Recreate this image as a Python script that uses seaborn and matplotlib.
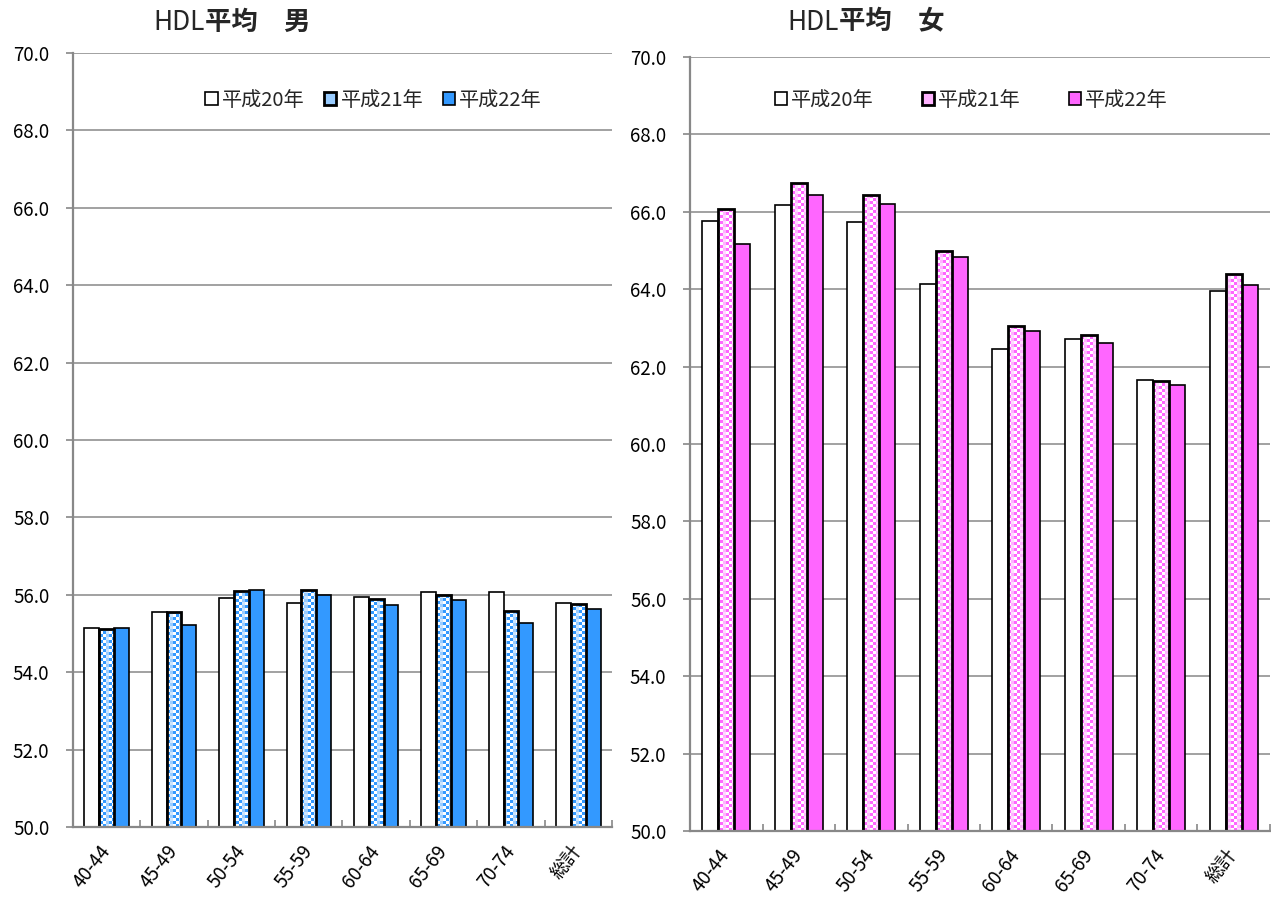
import numpy as np
import pandas as pd
import matplotlib
matplotlib.use("Agg")
import matplotlib.pyplot as plt
import matplotlib.colors as mcolors
from matplotlib.patches import Rectangle
import seaborn as sns

# ---------------- data ----------------
categories = ['40-44', '45-49', '50-54', '55-59', '60-64', '65-69', '70-74', '総計']
years = ['平成20年', '平成21年', '平成22年']

male_h20 = [55.15, 55.55, 55.91, 55.79, 55.94, 56.08, 56.08, 55.78]
male_h21 = [55.12, 55.55, 56.09, 56.12, 55.88, 56.00, 55.57, 55.77]
male_h22 = [55.15, 55.23, 56.13, 56.00, 55.73, 55.87, 55.27, 55.63]

female_h20 = [65.77, 66.17, 65.74, 64.13, 62.45, 62.71, 61.65, 63.96]
female_h21 = [66.08, 66.75, 66.43, 64.99, 63.05, 62.81, 61.63, 64.39]
female_h22 = [65.18, 66.43, 66.20, 64.84, 62.92, 62.61, 61.53, 64.11]

yticks = [50, 52, 54, 56, 58, 60, 62, 64, 66, 68, 70]

# ---------------- style ----------------
sns.set_theme(style='white')
plt.rcParams['font.family'] = ['Noto Sans CJK JP', 'DejaVu Sans']

fig = plt.figure(figsize=(12.71, 8.99), dpi=100)
axL = fig.add_axes([0.0574, 0.0801, 0.4241, 0.861])
axR = fig.add_axes([0.5429, 0.0756, 0.4563, 0.861])


def add_checker(ax, patches, dark, white, light, pale):
    pos = ax.get_position()
    wpx = pos.width * fig.get_figwidth() * fig.dpi
    hpx = pos.height * fig.get_figheight() * fig.dpi
    cell = 3
    nx, ny = int(wpx / cell), int(hpx / cell)
    tile = [[dark, white, light], [white, dark, pale]]
    tile = [[mcolors.to_rgb(c) for c in row] for row in tile]
    img = np.zeros((ny, nx, 3))
    for i in range(ny):
        for j in range(nx):
            img[i, j] = tile[i % 2][j % 3]
    x0, x1 = ax.get_xlim()
    y0, y1 = ax.get_ylim()
    for p in patches:
        z = p.get_zorder()
        im = ax.imshow(img, extent=(x0, x1, y0, y1), aspect='auto',
                       interpolation='nearest', zorder=z + 0.1, origin='upper')
        im.set_clip_path(p)
        p.set_facecolor('none')
        p.set_linewidth(2.0)
        p.set_zorder(z + 0.2)
    ax.set_xlim(x0, x1)
    ax.set_ylim(y0, y1)


def draw(ax, h20, h21, h22, colors, checker_cols, title_x, title_sex,
         leg_anchor, colspacing):
    df = pd.DataFrame({
        'cat': categories * 3,
        'year': [years[0]] * len(categories) + [years[1]] * len(categories) + [years[2]] * len(categories),
        'val': h20 + h21 + h22,
    })
    sns.barplot(data=df, x='cat', y='val', hue='year', order=categories,
                hue_order=years, palette=colors, width=0.66, edgecolor='black',
                linewidth=1.2, saturation=1, errorbar=None, legend=False, ax=ax)
    ax.set_ylim(50, 70)
    ax.set_xlim(-0.5, len(categories) - 0.5)
    ax.set_yticks(yticks, [f'{v:.1f}' for v in yticks])
    ax.set_xticks(range(len(categories)), categories, rotation=52,
                  ha='right', va='center', rotation_mode='anchor')
    ax.set_xticks(np.arange(0.5, len(categories), 1), minor=True)
    ax.set_xlabel('')
    ax.set_ylabel('')
    ax.set_axisbelow(True)
    ax.yaxis.grid(True, color='#9a9a9a', lw=1.3)
    ax.xaxis.grid(False)
    for s in ['top', 'right']:
        ax.spines[s].set_visible(False)
    for s in ['left', 'bottom']:
        ax.spines[s].set_color('#888888')
        ax.spines[s].set_linewidth(1.6)
    ax.tick_params(axis='y', left=True, length=5, width=1.2, color='#888888',
                   direction='out', labelsize=13.5, pad=12, labelcolor='black')
    ax.tick_params(axis='x', which='major', length=0, labelsize=13.5, pad=15,
                   labelcolor='black')
    ax.tick_params(axis='x', which='minor', bottom=True, length=5, width=1.2,
                   color='#888888', direction='in')

    # checker pattern for the middle series
    add_checker(ax, list(ax.containers[1]), *checker_cols)

    # legend
    handles = [
        Rectangle((0, 0), 1, 1, facecolor=colors[0], edgecolor='black', lw=1.2),
        Rectangle((0, 0), 1, 1, facecolor=checker_cols[2], edgecolor='black', lw=2.0),
        Rectangle((0, 0), 1, 1, facecolor=colors[2], edgecolor='black', lw=1.2),
    ]
    ax.legend(handles, years, loc='center', bbox_to_anchor=leg_anchor, ncol=3,
              frameon=False, fontsize=14.5, handlelength=0.6, handleheight=0.6,
              handletextpad=0.2, columnspacing=colspacing, borderpad=0)

    # title
    fig.text(title_x, 0.9755, 'HDL', ha='right', va='center', fontsize=19)
    fig.text(title_x, 0.9755, '平均　' + title_sex, ha='left', va='center',
             fontsize=19, fontweight='bold')


draw(axL, male_h20, male_h21, male_h22,
     ['#FFFFFF', '#99CCFF', '#3399FF'],
     ('#3399FF', '#FFFFFF', '#99CCFF', '#CCE5FF'),
     0.1613, '男', (0.558, 0.939), 1.0)

draw(axR, female_h20, female_h21, female_h22,
     ['#FFFFFF', '#FFB3FF', '#FF66FF'],
     ('#FF66FF', '#FFFFFF', '#FFB3FF', '#FFD9FF'),
     0.660, '女', (0.485, 0.944), 2.4)

fig.savefig('out.png', dpi=100)
